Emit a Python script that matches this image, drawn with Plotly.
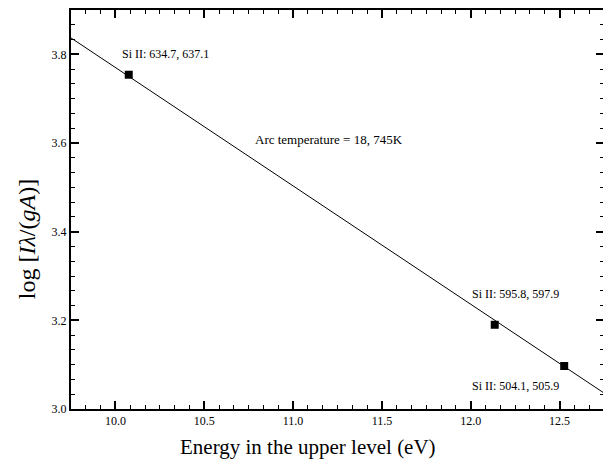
import plotly.graph_objects as go

# Data points (upper level energy in eV, log[I*lambda/(gA)])
energy = [10.075, 12.135, 12.526]
log_val = [3.754, 3.190, 3.097]

# Fitted Boltzmann line endpoints
fit_x = [9.75, 12.75]
fit_y = [3.837, 3.036]

# Labels
ann_text = ["Si II: 634.7, 637.1", "Arc temperature = 18, 745K",
            "Si II: 595.8, 597.9", "Si II: 504.1, 505.9"]
ann_x = [10.28, 11.2, 12.25, 12.25]
ann_y = [3.80, 3.609, 3.26, 3.053]
ann_size = [12, 13, 12, 12]

FONT = "Liberation Serif, Times New Roman, serif"

fig = go.Figure()
fig.add_trace(go.Scatter(x=fit_x, y=fit_y, mode="lines",
                         line=dict(color="black", width=1), showlegend=False))
fig.add_trace(go.Scatter(x=energy, y=log_val, mode="markers",
                         marker=dict(symbol="square", size=8, color="black"),
                         showlegend=False))

for t, x, y, s in zip(ann_text, ann_x, ann_y, ann_size):
    fig.add_annotation(x=x, y=y, text=t, showarrow=False,
                       font=dict(family=FONT, size=s, color="black"))

# Axis titles (placed as annotations to match the original's offsets)
fig.add_annotation(xref="paper", yref="paper", x=-0.081, y=0.425,
                   text="log [<i>I</i><i>λ</i>/(<i>gA</i>)]", textangle=-90,
                   showarrow=False, xanchor="center", yanchor="middle",
                   font=dict(family=FONT, size=24, color="black"))
fig.add_annotation(xref="paper", yref="paper", x=0.445, y=-0.095,
                   text="Energy in the upper level (eV)",
                   showarrow=False, xanchor="center", yanchor="middle",
                   font=dict(family=FONT, size=21, color="black"))

axis_common = dict(showline=True, linecolor="black", linewidth=2, mirror="ticks",
                   ticks="inside", ticklen=8, tickwidth=1.5, tickcolor="black",
                   showgrid=False, zeroline=False,
                   tickfont=dict(family=FONT, size=12, color="black"))

fig.update_xaxes(range=[9.75, 12.75], dtick=0.5, tick0=10.0, tickformat=".1f",
                 minor=dict(dtick=0.5 / 6, tick0=10.0, ticks="inside", ticklen=4,
                            tickcolor="black", tickwidth=1),
                 **axis_common)
fig.update_yaxes(range=[3.0, 3.9], dtick=0.2, tick0=3.0, tickformat=".1f",
                 minor=dict(dtick=0.2 / 6, tick0=3.0, ticks="inside", ticklen=4,
                            tickcolor="black", tickwidth=1),
                 **axis_common)

# The page adds an 8px body margin, so the figure is sized to fit the window.
fig.update_layout(width=603, height=451, plot_bgcolor="white", paper_bgcolor="white",
                  margin=dict(l=63, r=7, t=0, b=50))

fig.write_html("out.html")
